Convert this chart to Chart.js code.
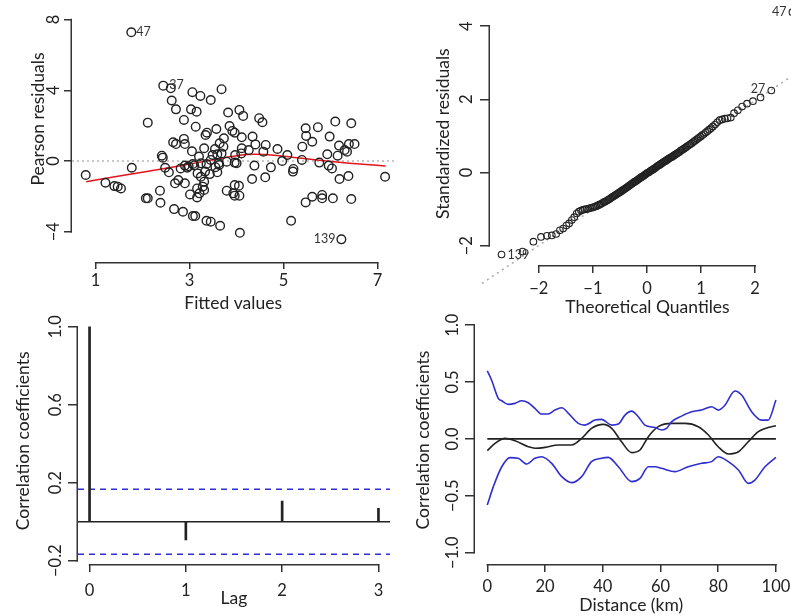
<!DOCTYPE html>
<html>
<head>
<meta charset="utf-8">
<script src="https://cdn.jsdelivr.net/npm/chart.js@4.4.1/dist/chart.umd.min.js"></script>
<style>
  html, body { margin: 0; padding: 0; background: #fff; }
  #wrap { position: relative; width: 791px; height: 616px; overflow: hidden; background: #fff; }
  canvas { position: absolute; }
</style>
</head>
<body>
<div id="wrap">
  <canvas id="c1" width="400" height="345" style="left:0px;top:-30px"></canvas>
  <canvas id="c2" width="415" height="322" style="left:395px;top:-4px"></canvas>
  <canvas id="c3" width="395" height="306" style="left:0px;top:310px"></canvas>
  <canvas id="c4" width="396" height="306" style="left:395px;top:310px"></canvas>
</div>
<script>
// panel 1: residuals vs fitted
const fittedVals = [1.76, 2.44, 6.23,
  2.60, 3.06, 3.23, 3.45, 3.68, 2.62, 2.71, 3.03, 3.15, 3.82, 4.06, 4.14, 4.48, 4.55, 2.11, 2.88,
  3.13, 3.57, 3.37, 3.34, 3.85, 3.91, 3.96, 4.11, 4.34, 3.73, 3.64, 2.65, 2.71, 2.88, 2.90, 3.31,
  3.54, 4.11, 4.62, 4.87, 4.26, 4.10, 4.57, 3.20, 3.49, 3.59, 3.68, 2.41, 2.43, 5.08, 4.97, 5.40,
  5.47, 5.48, 5.61, 5.73, 5.98, 6.10, 6.44, 6.18, 6.39, 6.51, 6.30, 6.35, 6.15, 5.93, 5.76, 5.39,
  5.96, 6.03, 6.19, 6.38, 7.16, 5.20, 4.61, 4.73, 4.38, 4.33, 3.96, 3.79, 3.63, 3.45, 3.36, 3.07,
  2.95, 2.81, 2.90, 3.17, 3.33, 3.59, 2.56, 2.48, 2.69, 2.76, 2.90, 3.24, 3.31, 3.28, 3.16, 3.31,
  3.01, 3.16, 3.21, 3.79, 3.96, 4.06, 3.96, 2.37, 2.38, 2.11, 2.07, 2.67, 2.86, 3.07, 3.12, 3.36,
  3.45, 3.65, 4.07, 5.16, 5.47, 5.61, 5.82, 5.82, 6.05, 6.44, 0.79, 1.21, 1.40, 1.47, 1.54, 1.77,
  4.40, 4.00, 5.21, 3.72, 3.97, 3.24, 3.62, 3.43, 3.55, 3.93, 2.98, 3.10, 4.05, 3.05];
const pearsonRes = [7.28, 4.26, -4.43,
  4.11, 3.89, 3.68, 3.45, 4.06, 3.42, 2.92, 2.92, 2.79, 2.74, 2.89, 2.55, 2.42, 2.19, 2.17, 2.32,
  1.94, 1.81, 1.60, 1.47, 1.98, 1.70, 1.60, 1.34, 1.38, 1.28, 1.00, 1.06, 0.96, 1.25, 0.96, 0.72,
  0.68, 0.72, 0.91, 0.68, 0.62, 0.43, 0.53, 0.25, 0.34, 0.38, 0.43, 0.30, 0.19, 0.34, 0.00, 0.81,
  1.85, 1.42, 1.09, 1.91, 1.38, 2.23, 2.13, 0.87, 0.96, 0.96, 0.62, 0.53, 0.30, 0.38, -0.09, 0.06,
  -0.26, -0.42, -1.02, -0.85, -0.89, -0.60, -0.92, -0.36, -0.26, -1.02, -0.09, -0.04, -0.23, 0.06, -0.17, -0.17,
  -0.38, -0.42, -0.26, -0.70, -0.60, -0.64, -0.64, -0.38, -1.26, -1.08, -1.26, -0.89, -1.17, -1.45, -1.55, -1.64,
  -1.89, -2.06, -1.83, -1.68, -1.96, -1.96, -1.36, -1.68, -2.36, -2.11, -2.11, -2.72, -2.87, -3.11, -3.11, -3.38,
  -3.43, -3.66, -4.06, -3.38, -2.34, -2.02, -1.92, -2.11, -2.11, -2.15, -0.79, -1.23, -1.42, -1.45, -1.55, -0.38,
  0.94, -0.13, -0.45, 0.81, 0.34, -0.13, -0.13, -0.74, -0.35, -1.83, -0.30, -0.25, -1.40, 0.55];
const smoothX = [0.80, 1.60, 2.37, 3.00, 3.50, 4.00, 4.40, 4.80, 5.22, 5.80, 6.40, 7.17];
const smoothY = [-1.17, -0.80, -0.47, -0.17, 0.07, 0.30, 0.38, 0.33, 0.20, 0.03, -0.12, -0.28];
const fittedTicks = [1, 3, 5, 7];
const fittedTickLabels = ['1', '3', '5', '7'];
const pearsonTicks = [-4, 0, 4, 8];
const pearsonTickLabels = ['\u22124', '0', '4', '8'];

// panel 2: normal QQ
const theoQ = [-2.69, -2.30, -2.10, -1.96, -1.85, -1.76, -1.68, -1.61, -1.55, -1.49,
  -1.44, -1.39, -1.345, -1.30, -1.26, -1.22, -1.185, -1.15, -1.117, -1.085,
  -1.053, -1.02, -0.99, -0.96, -0.935, -0.907, -0.88, -0.855, -0.83, -0.80,
  -0.78, -0.755, -0.73, -0.71, -0.686, -0.663, -0.641, -0.619, -0.597, -0.576,
  -0.555, -0.535, -0.514, -0.494, -0.474, -0.454, -0.434, -0.414, -0.395, -0.376,
  -0.357, -0.338, -0.319, -0.30, -0.282, -0.263, -0.245, -0.226, -0.208, -0.19,
  -0.172, -0.154, -0.136, -0.117, -0.099, -0.081, -0.063, -0.045, -0.027, -0.009,
  0.009, 0.027, 0.045, 0.063, 0.081, 0.099, 0.117, 0.136, 0.154, 0.172,
  0.19, 0.208, 0.226, 0.245, 0.263, 0.282, 0.30, 0.319, 0.338, 0.357,
  0.376, 0.395, 0.414, 0.434, 0.454, 0.474, 0.494, 0.514, 0.535, 0.555,
  0.576, 0.597, 0.619, 0.641, 0.663, 0.686, 0.71, 0.73, 0.755, 0.78,
  0.80, 0.83, 0.855, 0.88, 0.907, 0.935, 0.96, 0.99, 1.02, 1.053,
  1.085, 1.117, 1.15, 1.185, 1.22, 1.26, 1.30, 1.345, 1.39, 1.44,
  1.49, 1.55, 1.61, 1.68, 1.76, 1.85, 1.96, 2.10, 2.30, 2.69];
const stdRes = [-2.24, -2.16, -1.89, -1.76, -1.73, -1.72, -1.68, -1.58, -1.53, -1.45,
  -1.39, -1.30, -1.22, -1.12, -1.07, -1.04, -1.02, -1.01, -1.00, -0.99,
  -0.97, -0.96, -0.95, -0.93, -0.92, -0.90, -0.88, -0.86, -0.84, -0.81,
  -0.80, -0.78, -0.76, -0.74, -0.72, -0.69, -0.67, -0.65, -0.63, -0.61,
  -0.59, -0.57, -0.55, -0.53, -0.51, -0.49, -0.47, -0.45, -0.43, -0.41,
  -0.39, -0.37, -0.35, -0.33, -0.31, -0.29, -0.27, -0.25, -0.24, -0.22,
  -0.20, -0.18, -0.16, -0.14, -0.12, -0.11, -0.09, -0.07, -0.05, -0.03,
  -0.01, 0.00, 0.02, 0.04, 0.06, 0.07, 0.09, 0.11, 0.13, 0.15,
  0.17, 0.19, 0.20, 0.22, 0.24, 0.26, 0.28, 0.30, 0.31, 0.33,
  0.35, 0.37, 0.39, 0.41, 0.42, 0.44, 0.46, 0.48, 0.50, 0.52,
  0.54, 0.56, 0.59, 0.61, 0.63, 0.65, 0.68, 0.70, 0.73, 0.75,
  0.77, 0.80, 0.83, 0.86, 0.89, 0.92, 0.95, 0.98, 1.02, 1.05,
  1.09, 1.13, 1.17, 1.21, 1.26, 1.31, 1.37, 1.43, 1.45, 1.47,
  1.48, 1.50, 1.62, 1.70, 1.80, 1.88, 1.95, 2.05, 2.24, 4.38];
const qqLineX = [-3.05, 3.1];
const qqLineY = [-3.03, 3.05];
const theoTicks = [-2, -1, 0, 1, 2];
const theoTickLabels = ['\u22122', '\u22121', '0', '1', '2'];
const stdTicks = [-2, 0, 2, 4];
const stdTickLabels = ['\u22122', '0', '2', '4'];

// panel 3: ACF
const acfLag = [0, 1, 2, 3];
const acfVal = [1.0, -0.094, 0.106, 0.069];
const acfBound = 0.167;
const lagTicks = [0, 1, 2, 3];
const lagTickLabels = ['0', '1', '2', '3'];
const acfTicks = [-0.2, 0.2, 0.6, 1.0];
const acfTickLabels = ['\u22120.2', '0.2', '0.6', '1.0'];

// panel 4: correlogram with envelope
const corDist = [0, 2.7, 6.1, 9.6, 14.2, 16.5, 20, 24.6, 29.2, 32.7, 36.1, 40.2, 43.1, 46.5, 50,
  52.9, 55.8, 59.2, 63.9, 68.5, 73.1, 76.6, 80, 83.5, 87, 90.4, 93.9, 97.3, 100];
const corVal = [-0.104, -0.04, 0.004, -0.016, -0.069, -0.083, -0.075, -0.054, -0.054, 0.004, 0.092,
  0.127, 0.092, -0.025, -0.121, -0.098, 0.019, 0.107, 0.136, 0.136, 0.107, 0.034, -0.069, -0.133,
  -0.113, -0.025, 0.063, 0.10, 0.116];
const upDist = [0, 1.5, 3.8, 5, 7.3, 9.6, 11.9, 14.2, 16.5, 18.8, 21.1, 23.4, 25.8, 28.1, 31.5, 33.8,
  37.3, 39.6, 43.1, 45.4, 47.7, 50, 52.3, 54.6, 58.1, 60.4, 62.1, 63.9, 67.3, 70.8, 74.2, 77.7, 80,
  82.3, 85.8, 88.1, 91.6, 95, 97.3, 100];
const upVal = [0.597, 0.515, 0.356, 0.335, 0.303, 0.312, 0.335, 0.318, 0.268, 0.218, 0.218, 0.253,
  0.273, 0.224, 0.136, 0.121, 0.165, 0.171, 0.121, 0.130, 0.209, 0.244, 0.195, 0.121, 0.10, 0.078,
  0.092, 0.151, 0.20, 0.238, 0.253, 0.282, 0.253, 0.295, 0.421, 0.385, 0.238, 0.165, 0.165, 0.341];
const loDist = [0, 2.1, 5, 7.9, 10.7, 13.6, 16.5, 18.8, 22.3, 25.8, 29.2, 32.7, 36.1, 39.6, 41.9,
  45.4, 50, 52.9, 55.8, 58.1, 60.4, 65, 69.6, 74.2, 77.7, 80, 83.5, 87, 90.4, 92.7, 96.2, 100];
const loVal = [-0.581, -0.42, -0.245, -0.165, -0.171, -0.221, -0.171, -0.157, -0.215, -0.332, -0.385,
  -0.332, -0.200, -0.171, -0.163, -0.245, -0.376, -0.347, -0.245, -0.245, -0.259, -0.288, -0.245,
  -0.215, -0.20, -0.157, -0.20, -0.273, -0.391, -0.362, -0.245, -0.163];
const distTicks = [0, 20, 40, 60, 80, 100];
const distTickLabels = ['0', '20', '40', '60', '80', '100'];
const corTicks = [-1, -0.5, 0, 0.5, 1];
const corTickLabels = ['\u22121.0', '\u22120.5', '0.0', '0.5', '1.0'];

const INK = '#222';
const AXIS = '#333';
const BLUE = '#2e2ed2';
const tickFont = { family: 'Lato', size: 16.5 };
const titleFont = { family: 'Lato', size: 17.5 };

function xy(xs, ys) {
  return xs.map((x, i) => ({ x: x, y: ys[i] }));
}

// R style axis: ticks only, line drawn by the rAxes plugin
function axis(o) {
  const left = o.pos === 'left';
  return {
    type: 'linear',
    position: o.pos,
    min: o.min,
    max: o.max,
    offset: false,
    afterBuildTicks: (s) => { s.ticks = o.ticks.map((v) => ({ value: v })); },
    afterFit: (s) => {
      if (left) s.width = o.size; else s.height = o.size;
      s.paddingTop = 0; s.paddingBottom = 0; s.paddingLeft = 0; s.paddingRight = 0;
    },
    grid: { display: true, offset: false, drawOnChartArea: false, drawTicks: true,
      tickLength: o.tl, color: AXIS, lineWidth: 1.5 },
    border: { display: false },
    ticks: {
      autoSkip: false,
      padding: o.pad,
      color: INK,
      font: tickFont,
      minRotation: left ? 90 : 0,
      maxRotation: left ? 90 : 0,
      crossAlign: 'center',
      callback: (v, i) => o.labels[i]
    },
    title: { display: true, text: o.title, color: INK, font: titleFont,
      padding: left ? { top: o.titlePad, bottom: 0 } : { top: 0, bottom: o.titlePad } }
  };
}

const rAxes = {
  id: 'rAxes',
  afterDraw(chart) {
    const ctx = chart.ctx;
    ctx.save();
    ctx.strokeStyle = AXIS;
    ctx.lineWidth = 1.5;
    Object.values(chart.scales).forEach((s) => {
      const t = s.ticks;
      if (!t.length) return;
      const p0 = s.getPixelForValue(t[0].value);
      const p1 = s.getPixelForValue(t[t.length - 1].value);
      ctx.beginPath();
      if (s.isHorizontal()) {
        ctx.moveTo(p0 - 0.75, s.top + 0.75);
        ctx.lineTo(p1 + 0.75, s.top + 0.75);
      } else {
        ctx.moveTo(s.right - 0.75, p0 + 0.75);
        ctx.lineTo(s.right - 0.75, p1 - 0.75);
      }
      ctx.stroke();
    });
    ctx.restore();
  }
};

const refLines = {
  id: 'refLines',
  beforeDatasetsDraw(chart, args, opts) {
    const ctx = chart.ctx;
    const a = chart.chartArea;
    const xs = chart.scales.x;
    const ys = chart.scales.y;
    (opts.lines || []).forEach((l) => {
      const py = ys.getPixelForValue(l.y);
      const x0 = l.from != null ? xs.getPixelForValue(l.from) : a.left;
      const x1 = l.to != null ? xs.getPixelForValue(l.to) : a.right;
      ctx.save();
      ctx.strokeStyle = l.color;
      ctx.lineWidth = l.width;
      ctx.setLineDash(l.dash || []);
      ctx.beginPath();
      ctx.moveTo(x0, py);
      ctx.lineTo(x1, py);
      ctx.stroke();
      ctx.restore();
    });
  }
};

const pointTags = {
  id: 'pointTags',
  afterDatasetsDraw(chart, args, opts) {
    const ctx = chart.ctx;
    ctx.save();
    ctx.font = '12.5px Lato';
    ctx.fillStyle = '#333';
    ctx.textBaseline = 'middle';
    (opts.items || []).forEach((t) => {
      const el = chart.getDatasetMeta(t.ds).data[t.i];
      ctx.textAlign = t.side === 'left' ? 'right' : 'left';
      ctx.fillText(t.text, el.x + (t.side === 'left' ? -t.off : t.off), el.y + (t.dy || 0));
    });
    ctx.restore();
  }
};

const common = {
  responsive: false,
  animation: false,
  devicePixelRatio: 1,
  events: []
};

// panel 1
new Chart(document.getElementById('c1'), {
  type: 'scatter',
  data: {
    datasets: [
      { data: xy(fittedVals, pearsonRes), pointRadius: 4.3, pointBorderWidth: 1.4,
        pointBackgroundColor: 'rgba(0,0,0,0)', pointBorderColor: INK },
      { type: 'line', data: xy(smoothX, smoothY), showLine: true, pointRadius: 0,
        borderColor: '#e3141b', borderWidth: 1.5, cubicInterpolationMode: 'monotone' }
    ]
  },
  options: Object.assign({}, common, {
    layout: { padding: { top: 6, right: 0, left: 0, bottom: 0 } },
    scales: {
      x: axis({ pos: 'bottom', min: 0.498, max: 7.356, ticks: fittedTicks, labels: fittedTickLabels,
        size: 53, tl: 7, pad: 11.5, title: 'Fitted values', titlePad: 1.5 }),
      y: axis({ pos: 'left', min: -5.71, max: 10.46, ticks: pearsonTicks, labels: pearsonTickLabels,
        size: 72, tl: 8, pad: 0.8, title: 'Pearson residuals', titlePad: 27.5 })
    },
    plugins: {
      legend: { display: false },
      tooltip: { enabled: false },
      refLines: { lines: [{ y: 0, color: '#b5b5b5', width: 1.5, dash: [2, 3] }] },
      pointTags: { items: [
        { ds: 0, i: 0, text: '47', side: 'right', off: 5 },
        { ds: 0, i: 1, text: '37', side: 'right', off: 6, dy: -1 },
        { ds: 0, i: 2, text: '139', side: 'left', off: 6 }
      ] }
    }
  }),
  plugins: [rAxes, refLines, pointTags]
});

// panel 2
new Chart(document.getElementById('c2'), {
  type: 'scatter',
  data: {
    datasets: [
      { data: xy(theoQ, stdRes), pointRadius: 3.3, pointBorderWidth: 1.1,
        pointBackgroundColor: 'rgba(0,0,0,0)', pointBorderColor: INK },
      { type: 'line', data: xy(qqLineX, qqLineY), showLine: true, pointRadius: 0, clip: false,
        borderColor: '#a8a8a8', borderWidth: 1.5, borderDash: [2, 4] }
    ]
  },
  options: Object.assign({}, common, {
    layout: { padding: { top: 6.3, right: 2, left: 0, bottom: 0 } },
    scales: {
      x: axis({ pos: 'bottom', min: -2.903, max: 2.921, ticks: theoTicks, labels: theoTickLabels,
        size: 53, tl: 8, pad: 15.5, title: 'Theoretical Quantiles', titlePad: 0.5 }),
      y: axis({ pos: 'left', min: -2.527, max: 4.65, ticks: stdTicks, labels: stdTickLabels,
        size: 95, tl: 10, pad: 3.3, title: 'Standardized residuals', titlePad: 37.5 })
    },
    plugins: {
      legend: { display: false },
      tooltip: { enabled: false },
      pointTags: { items: [
        { ds: 0, i: 0, text: '139', side: 'right', off: 6 },
        { ds: 0, i: 138, text: '27', side: 'left', off: 6, dy: -2 },
        { ds: 0, i: 139, text: '47', side: 'left', off: 6 }
      ] }
    }
  }),
  plugins: [rAxes, pointTags]
});

// panel 3
new Chart(document.getElementById('c3'), {
  type: 'bar',
  data: {
    datasets: [
      { data: xy(acfLag, acfVal), backgroundColor: INK, borderWidth: 0, barThickness: 2 }
    ]
  },
  options: Object.assign({}, common, {
    layout: { padding: { top: 7.6, right: 5, left: 0, bottom: 0 } },
    scales: {
      x: axis({ pos: 'bottom', min: -0.12, max: 3.12, ticks: lagTicks, labels: lagTickLabels,
        size: 52, tl: 8, pad: 18.5, title: 'Lag', titlePad: 7.5 }),
      y: axis({ pos: 'left', min: -0.217, max: 1.047, ticks: acfTicks, labels: acfTickLabels,
        size: 78, tl: 10, pad: -4.3, title: 'Correlation coefficients', titlePad: 12.5 })
    },
    plugins: {
      legend: { display: false },
      tooltip: { enabled: false },
      refLines: { lines: [
        { y: 0, color: INK, width: 1.6 },
        { y: acfBound, color: BLUE, width: 1.5, dash: [6, 5] },
        { y: -acfBound, color: BLUE, width: 1.5, dash: [6, 5] }
      ] }
    }
  }),
  plugins: [rAxes, refLines]
});

// panel 4
new Chart(document.getElementById('c4'), {
  type: 'scatter',
  data: {
    datasets: [
      { data: xy(upDist, upVal), showLine: true, pointRadius: 0, borderColor: BLUE,
        borderWidth: 1.6, cubicInterpolationMode: 'monotone' },
      { data: xy(loDist, loVal), showLine: true, pointRadius: 0, borderColor: BLUE,
        borderWidth: 1.6, cubicInterpolationMode: 'monotone' },
      { data: xy(corDist, corVal), showLine: true, pointRadius: 0, borderColor: INK,
        borderWidth: 1.6, cubicInterpolationMode: 'monotone' }
    ]
  },
  options: Object.assign({}, common, {
    layout: { padding: { top: 6, right: 3.5, left: 0, bottom: 0 } },
    scales: {
      x: axis({ pos: 'bottom', min: -4.26, max: 104.0, ticks: distTicks, labels: distTickLabels,
        size: 52, tl: 8, pad: 15, title: 'Distance (km)', titlePad: 0.5 }),
      y: axis({ pos: 'left', min: -1.1, max: 1.08, ticks: corTicks, labels: corTickLabels,
        size: 80, tl: 10, pad: -3.8, title: 'Correlation coefficients', titlePad: 17.5 })
    },
    plugins: {
      legend: { display: false },
      tooltip: { enabled: false },
      refLines: { lines: [{ y: 0, from: distTicks[0], to: distTicks[distTicks.length - 1],
        color: INK, width: 1.6 }] }
    }
  }),
  plugins: [rAxes, refLines]
});
</script>
</body>
</html>
